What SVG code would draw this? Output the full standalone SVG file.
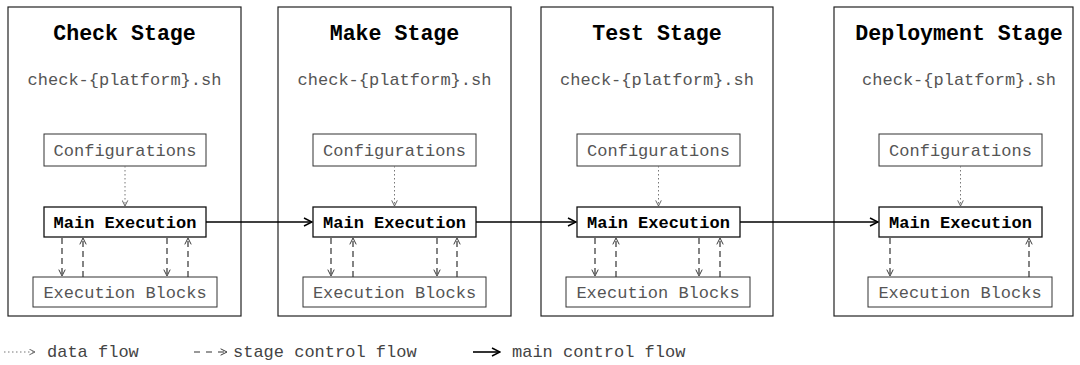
<svg xmlns="http://www.w3.org/2000/svg" width="1080" height="365" viewBox="0 0 1080 365">
  <style>
    text { font-family: "Liberation Mono", "DejaVu Sans Mono", monospace; }
    .stage { fill: #fff; stroke: #222; stroke-width: 1.2; }
    .box { fill: #fff; stroke: #333; stroke-width: 1; }
    .main { fill: #fff; stroke: #111; stroke-width: 1.3; }
    .title { font-size: 21.6px; font-weight: bold; fill: #000; text-anchor: middle; }
    .script { font-size: 17px; fill: #555; text-anchor: middle; }
    .label { font-size: 17px; fill: #555; text-anchor: middle; }
    .mainlabel { font-size: 17px; font-weight: bold; fill: #000; text-anchor: middle; }
    .legend { font-size: 17px; fill: #444; }
    .data { stroke: #777; stroke-width: 1; stroke-dasharray: 1.5 2.5; fill: none; }
    .ctrl { stroke: #333; stroke-width: 1.2; stroke-dasharray: 6 4; fill: none; }
    .flow { stroke: #000; stroke-width: 1.6; fill: none; }
  </style>
  <defs>
    <marker id="arrData" viewBox="0 0 10 10" refX="9" refY="5" markerWidth="7" markerHeight="7" markerUnits="userSpaceOnUse" orient="auto">
      <path d="M1,1 L9,5 L1,9" fill="none" stroke="#555" stroke-width="1.3"/>
    </marker>
    <marker id="arrCtrl" viewBox="0 0 10 10" refX="9" refY="5" markerWidth="8" markerHeight="8" markerUnits="userSpaceOnUse" orient="auto">
      <path d="M1,1 L9,5 L1,9" fill="none" stroke="#333" stroke-width="1.2"/>
    </marker>
    <marker id="arrFlow" viewBox="0 0 10 10" refX="9" refY="5" markerWidth="10" markerHeight="10" markerUnits="userSpaceOnUse" orient="auto">
      <path d="M1,1 L9,5 L1,9" fill="none" stroke="#000" stroke-width="1.5"/>
    </marker>
  </defs>

  <!-- Check stage -->
  <g id="stage-check">
    <rect class="stage" x="8" y="7" width="233" height="309"/>
    <text class="title" x="124.5" y="40">Check Stage</text>
    <text class="script" x="124.5" y="85">check-{platform}.sh</text>
    <g id="check-config">
      <rect class="box" x="44" y="134" width="162" height="32"/>
      <text class="label" x="125" y="156">Configurations</text>
    </g>
    <g id="check-main">
      <rect class="main" x="44" y="207" width="162" height="30"/>
      <text class="mainlabel" x="125" y="228">Main Execution</text>
    </g>
    <g id="check-blocks">
      <rect class="box" x="33" y="277" width="184" height="30"/>
      <text class="label" x="125" y="298">Execution Blocks</text>
    </g>
  </g>

  <!-- Make stage -->
  <g id="stage-make">
    <rect class="stage" x="278" y="7" width="233" height="309"/>
    <text class="title" x="394.5" y="40">Make Stage</text>
    <text class="script" x="394.5" y="85">check-{platform}.sh</text>
    <g id="make-config">
      <rect class="box" x="313" y="134" width="163" height="32"/>
      <text class="label" x="394.5" y="156">Configurations</text>
    </g>
    <g id="make-main">
      <rect class="main" x="313" y="207" width="163" height="30"/>
      <text class="mainlabel" x="394.5" y="228">Main Execution</text>
    </g>
    <g id="make-blocks">
      <rect class="box" x="303" y="277" width="183" height="30"/>
      <text class="label" x="394.5" y="298">Execution Blocks</text>
    </g>
  </g>

  <!-- Test stage -->
  <g id="stage-test">
    <rect class="stage" x="541" y="7" width="232" height="309"/>
    <text class="title" x="657" y="40">Test Stage</text>
    <text class="script" x="657" y="85">check-{platform}.sh</text>
    <g id="test-config">
      <rect class="box" x="577" y="134" width="163" height="32"/>
      <text class="label" x="658.5" y="156">Configurations</text>
    </g>
    <g id="test-main">
      <rect class="main" x="577" y="207" width="163" height="30"/>
      <text class="mainlabel" x="658.5" y="228">Main Execution</text>
    </g>
    <g id="test-blocks">
      <rect class="box" x="566" y="277" width="184" height="30"/>
      <text class="label" x="658" y="298">Execution Blocks</text>
    </g>
  </g>

  <!-- Deployment stage -->
  <g id="stage-deploy">
    <rect class="stage" x="834" y="7" width="239" height="309"/>
    <text class="title" x="959" y="40">Deployment Stage</text>
    <text class="script" x="959" y="85">check-{platform}.sh</text>
    <g id="deploy-config">
      <rect class="box" x="879" y="134" width="163" height="32"/>
      <text class="label" x="960.5" y="156">Configurations</text>
    </g>
    <g id="deploy-main">
      <rect class="main" x="879" y="207" width="163" height="30"/>
      <text class="mainlabel" x="960.5" y="228">Main Execution</text>
    </g>
    <g id="deploy-blocks">
      <rect class="box" x="868" y="277" width="184" height="30"/>
      <text class="label" x="960" y="298">Execution Blocks</text>
    </g>
  </g>

  <!-- Connectors -->
  <g id="connectors">
    <!-- configurations feed main execution -->
    <line class="data" x1="125" y1="166" x2="125" y2="206" marker-end="url(#arrData)"/>
    <line class="data" x1="394.5" y1="166" x2="394.5" y2="206" marker-end="url(#arrData)"/>
    <line class="data" x1="658.5" y1="166" x2="658.5" y2="206" marker-end="url(#arrData)"/>
    <line class="data" x1="960.5" y1="166" x2="960.5" y2="206" marker-end="url(#arrData)"/>

    <!-- main execution calls execution blocks and gets control back -->
    <line class="ctrl" x1="62" y1="238" x2="62" y2="276" marker-end="url(#arrCtrl)"/>
    <line class="ctrl" x1="83" y1="277" x2="83" y2="238" marker-end="url(#arrCtrl)"/>
    <line class="ctrl" x1="167" y1="238" x2="167" y2="276" marker-end="url(#arrCtrl)"/>
    <line class="ctrl" x1="188" y1="277" x2="188" y2="238" marker-end="url(#arrCtrl)"/>

    <line class="ctrl" x1="331" y1="238" x2="331" y2="276" marker-end="url(#arrCtrl)"/>
    <line class="ctrl" x1="353" y1="277" x2="353" y2="238" marker-end="url(#arrCtrl)"/>
    <line class="ctrl" x1="437" y1="238" x2="437" y2="276" marker-end="url(#arrCtrl)"/>
    <line class="ctrl" x1="457" y1="277" x2="457" y2="238" marker-end="url(#arrCtrl)"/>

    <line class="ctrl" x1="595" y1="238" x2="595" y2="276" marker-end="url(#arrCtrl)"/>
    <line class="ctrl" x1="616" y1="277" x2="616" y2="238" marker-end="url(#arrCtrl)"/>
    <line class="ctrl" x1="699" y1="238" x2="699" y2="276" marker-end="url(#arrCtrl)"/>
    <line class="ctrl" x1="720" y1="277" x2="720" y2="238" marker-end="url(#arrCtrl)"/>

    <line class="ctrl" x1="890" y1="238" x2="890" y2="276" marker-end="url(#arrCtrl)"/>
    <line class="ctrl" x1="1029" y1="277" x2="1029" y2="238" marker-end="url(#arrCtrl)"/>

    <!-- main control flow between stages -->
    <line class="flow" x1="206" y1="222" x2="312" y2="222" marker-end="url(#arrFlow)"/>
    <line class="flow" x1="476" y1="222" x2="576" y2="222" marker-end="url(#arrFlow)"/>
    <line class="flow" x1="740" y1="222" x2="878" y2="222" marker-end="url(#arrFlow)"/>
  </g>

  <!-- Legend -->
  <g id="legend">
    <line class="data" x1="4" y1="352" x2="35" y2="352" marker-end="url(#arrData)"/>
    <text class="legend" x="47" y="357">data flow</text>
    <line class="ctrl" x1="194" y1="352" x2="227" y2="352" style="stroke-dasharray: 6 6" marker-end="url(#arrCtrl)"/>
    <text class="legend" x="233" y="357">stage control flow</text>
    <line class="flow" x1="473" y1="352" x2="500" y2="352" marker-end="url(#arrFlow)"/>
    <text class="legend" x="512" y="357">main control flow</text>
  </g>
</svg>
